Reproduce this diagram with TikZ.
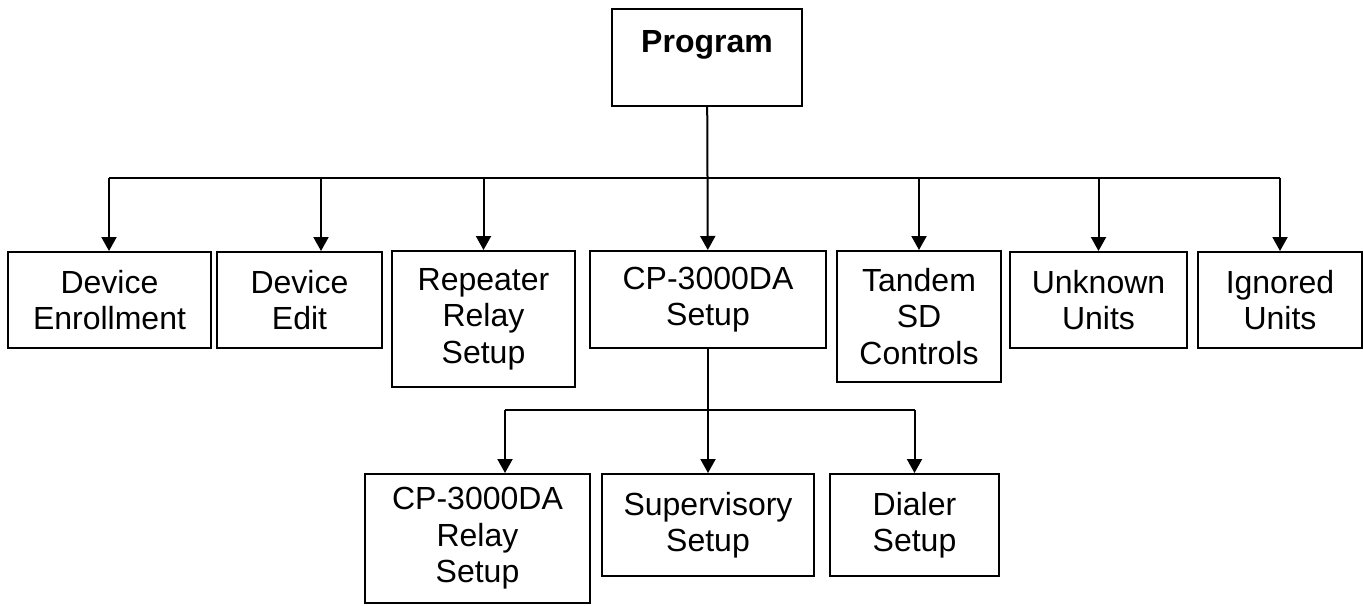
\documentclass[tikz,border=0pt]{standalone}
\usepackage{fontspec}
\setmainfont{Liberation Sans}
\usetikzlibrary{arrows.meta}
\tikzset{
  box/.style={draw, line width=2pt, align=center, inner sep=0pt,
    font=\fontsize{32}{36.5}\selectfont},
  arr/.style={-{Triangle[width=15pt,length=14pt]}}
}
\begin{document}
\begin{tikzpicture}[x=1pt,y=-1pt,line width=2pt]
  \useasboundingbox (0,0) rectangle (1364,605);
  \node[box, minimum width=190pt, text height=43pt, text depth=54pt] (prog) at (707,57.5) {\textbf{Program}};
  \node[box, minimum width=203pt, minimum height=96pt] (enr) at (109.5,300) {Device\\Enrollment};
  \node[box, minimum width=165pt, minimum height=96pt] (edit) at (299.5,300) {Device\\Edit};
  \node[box, minimum width=183pt, minimum height=136pt] (rep) at (483.5,319) {Repeater\\Relay\\Setup};
  \node[box, minimum width=236pt, minimum height=97pt] (cp) at (708,299.5) {CP-3000DA\\Setup};
  \node[box, minimum width=164pt, minimum height=131pt] (tan) at (919,316.5) {Tandem\\SD\\Controls};
  \node[box, minimum width=177pt, minimum height=96pt] (unk) at (1098.5,300) {Unknown\\Units};
  \node[box, minimum width=164pt, minimum height=96pt] (ign) at (1280,300) {Ignored\\Units};
  \node[box, minimum width=225pt, minimum height=129pt] (rel) at (477.5,538.5) {CP-3000DA\\Relay\\Setup};
  \node[box, minimum width=212pt, minimum height=102pt] (sup) at (708,525) {Supervisory\\Setup};
  \node[box, minimum width=169pt, minimum height=102pt] (dia) at (914.5,525) {Dialer\\Setup};
  % upper bus
  \coordinate (b1) at (109,178);
  \coordinate (b2) at (321,178);
  \coordinate (b3) at (483.5,178);
  \coordinate (b5) at (919,178);
  \coordinate (b6) at (1098.5,178);
  \coordinate (b7) at (1280,178);
  \draw (b1) -- (b7);
  \draw[arr] (prog) -- (cp);
  \draw[arr] (b1) -- (b1 |- enr.north);
  \draw[arr] (b2) -- (b2 |- edit.north);
  \draw[arr] (b3) -- (rep);
  \draw[arr] (b5) -- (tan);
  \draw[arr] (b6) -- (unk);
  \draw[arr] (b7) -- (ign);
  % lower bus
  \coordinate (s1) at (505,410);
  \coordinate (s3) at (914.5,410);
  \draw (s1) -- (s3);
  \draw[arr] (cp) -- (sup);
  \draw[arr] (s1) -- (s1 |- rel.north);
  \draw[arr] (s3) -- (dia);
\end{tikzpicture}
\end{document}
